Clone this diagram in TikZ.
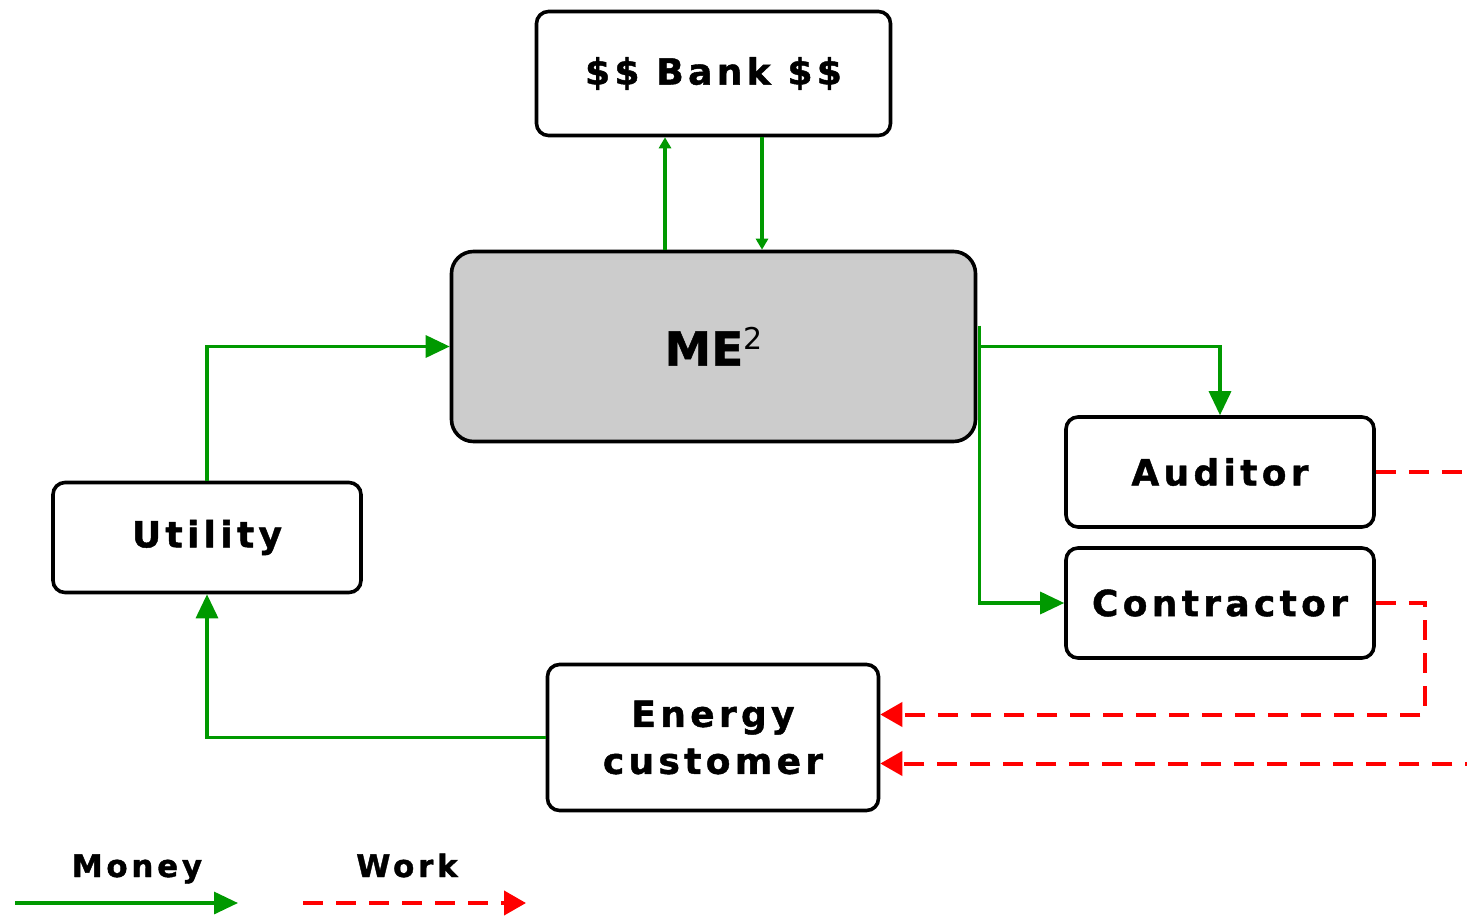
\documentclass[tikz,border=0pt]{standalone}
\usepackage{fontspec}
\usetikzlibrary{arrows.meta}
\newfontfamily\lblfont{DejaVu Sans Bold}[LetterSpace=12, FakeBold=1.2]
\newfontfamily\mefont{DejaVu Sans Bold}[FakeBold=1]
\newfontfamily\supfont{DejaVu Sans}
\definecolor{moneygreen}{RGB}{0,153,0}
\definecolor{workred}{RGB}{255,0,0}
\definecolor{megray}{RGB}{204,204,204}
\begin{document}
\begin{tikzpicture}[x=1pt,y=-1pt,
  box/.style={draw=black, line width=3.6pt, rounded corners=12pt, fill=white,
    minimum width=308pt, minimum height=110pt, inner sep=0pt, align=center,
    font=\lblfont\fontsize{36}{47}\selectfont},
  legendlbl/.style={font=\lblfont\fontsize{31}{36}\selectfont, inner sep=0pt, anchor=base},
  money/.style={draw=moneygreen, line width=3.3pt, -{Triangle[length=24pt,width=22pt]}},
  moneysmall/.style={draw=moneygreen, line width=3.3pt, -{Triangle[length=11pt,width=12pt]}},
  work/.style={draw=workred, line width=4pt, dash pattern=on 20pt off 13pt,
    -{Triangle[length=22pt,width=24pt]}},
]
\useasboundingbox (0,0) rectangle (1467,916);

% boxes
\node[box, minimum width=354pt, minimum height=124pt] (bank) at (713.5,73.5) {\$\$ Bank \$\$};
\node[box, fill=megray, rounded corners=22pt, minimum width=524pt, minimum height=190pt] (ME) at (713.5,346.5)
  {\mefont\fontsize{47}{47}\selectfont ME\raisebox{16pt}{\supfont\fontsize{30}{30}\selectfont 2}};
\node[box] (aud) at (1220,472) {Auditor};
\node[box] (con) at (1220,603) {Contractor};
\node[box] (util) at (207,537.5) {Utility};
\node[box, minimum width=331pt, minimum height=146pt] (ec) at (713,737.5) {Energy\\customer};

% money flows
\coordinate (xb1) at (665,0);
\coordinate (xb2) at (762,0);
\draw[moneysmall] (ME.north -| xb1) -- (bank.south -| xb1);
\draw[moneysmall] (bank.south -| xb2) -- (ME.north -| xb2);
\draw[money] (util.north) |- (ME.west);
\draw[money] ([xshift=2pt]ME.east) -| (aud.north);
\draw[money] ([shift={(2pt,21pt)}]ME.east) |- (con.west);
\draw[money] (ec.west) -| (util.south);

% work flows
\draw[work] (con.east) -- ++(49,0) |- ([yshift=23pt]ec.east);
\draw[work] (aud.east) -- ++(140,0) |- ([yshift=-26pt]ec.east);

% legend
\node[legendlbl] (lm) at (137,877) {Money};
\node[legendlbl] (lw) at (407,877) {Work};
\coordinate (lm1) at (15,903);
\coordinate (lm2) at (238,903);
\coordinate (lw1) at (303,903);
\coordinate (lw2) at (526,903);
\draw[money] (lm1) -- (lm2);
\draw[work] (lw1) -- (lw2);
\end{tikzpicture}
\end{document}
